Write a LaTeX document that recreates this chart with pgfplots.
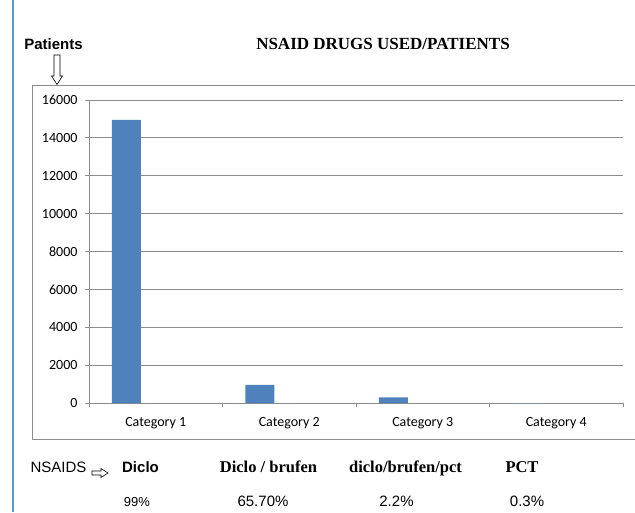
\documentclass[border=0pt]{standalone}
\usepackage{fontspec}
\setmainfont{Liberation Serif}
\newfontfamily\arial{Liberation Sans}
\newfontfamily\calibri{Carlito}
\usepackage{pgfplots}
\pgfplotsset{compat=1.18}
\definecolor{barblue}{HTML}{4F81BD}
\definecolor{gridgray}{HTML}{8C8C8C}
\definecolor{pageblue}{HTML}{5B9BD5}
\begin{document}
\begin{tikzpicture}[x=1pt,y=1pt]
\useasboundingbox (0,0) rectangle (635,512);
\draw[pageblue, line width=2] (12.7,0) -- (12.7,512);
\draw[gridgray, line width=0.9] (32,427) rectangle (640,73);
\begin{axis}[
  at={(89pt,109pt)}, anchor=south west,
  scale only axis, width=534pt, height=303pt,
  xmin=-0.5, xmax=3.5, ymin=0, ymax=16000,
  axis lines=left, axis line style={-, draw=gridgray, line width=0.9pt},
  ymajorgrids, grid style={gridgray, line width=0.9pt},
  ytick={0,2000,...,16000},
  xtick={0,1,2,3}, xticklabels={Category 1,Category 2,Category 3,Category 4},
  minor xtick={-0.5,0.5,1.5,2.5,3.5},
  tick align=outside, major tick length=4pt, minor tick length=4pt,
  tick style={gridgray, line width=0.9pt},
  major x tick style={draw=none},
  ticklabel style={font=\calibri\fontsize{14}{16}\selectfont},
  xticklabel style={yshift=-7pt},
  scaled y ticks=false,
  /pgf/number format/assume math mode=true,
  yticklabel style={/pgf/number format/1000 sep={}, xshift=-4pt},
]
\addplot[ybar, fill=barblue, draw=none, bar width=0.216, bar shift=-0.22] coordinates {(0,14950) (1,960) (2,300) (3,0)};
\end{axis}
% title and axis name
\node[font=\bfseries\fontsize{17}{20}\selectfont, anchor=base, inner sep=0] at (383,462.7) {NSAID DRUGS USED/PATIENTS};
\node[font=\arial\bfseries\fontsize{15}{18}\selectfont, anchor=base, inner sep=0] at (53.5,462.7) {Patients};
% down arrow
\draw[black, line width=0.6, fill=white] (54,457) -- (60,457) -- (60,436) -- (62.5,436) -- (57,427.5) -- (51.5,436) -- (54,436) -- cycle;
% bottom row
\node[font=\arial\fontsize{15}{18}\selectfont, anchor=base, inner sep=0] at (58.5,40) {NSAIDS};
\draw[black, line width=0.6, fill=white] (92,41) -- (101,41) -- (101,43.5) -- (108,39) -- (101,34.5) -- (101,37) -- (92,37) -- cycle;
\node[font=\arial\bfseries\fontsize{15}{18}\selectfont, anchor=base, inner sep=0] at (140.5,40) {Diclo};
\node[font=\bfseries\fontsize{16.5}{20}\selectfont, anchor=base, inner sep=0] at (268.5,40) {Diclo / brufen};
\node[font=\bfseries\fontsize{16.5}{20}\selectfont, anchor=base, inner sep=0] at (405.5,40) {diclo/brufen/pct};
\node[font=\bfseries\fontsize{16.5}{20}\selectfont, anchor=base, inner sep=0] at (522,40) {PCT};
\node[font=\arial\fontsize{13}{16}\selectfont, anchor=base, inner sep=0] at (137,6) {99\%};
\node[font=\arial\fontsize{15}{18}\selectfont, anchor=base, inner sep=0] at (263,5.5) {65.70\%};
\node[font=\arial\fontsize{15}{18}\selectfont, anchor=base, inner sep=0] at (396.5,5.5) {2.2\%};
\node[font=\arial\fontsize{15}{18}\selectfont, anchor=base, inner sep=0] at (527,5.5) {0.3\%};
\end{tikzpicture}
\end{document}
